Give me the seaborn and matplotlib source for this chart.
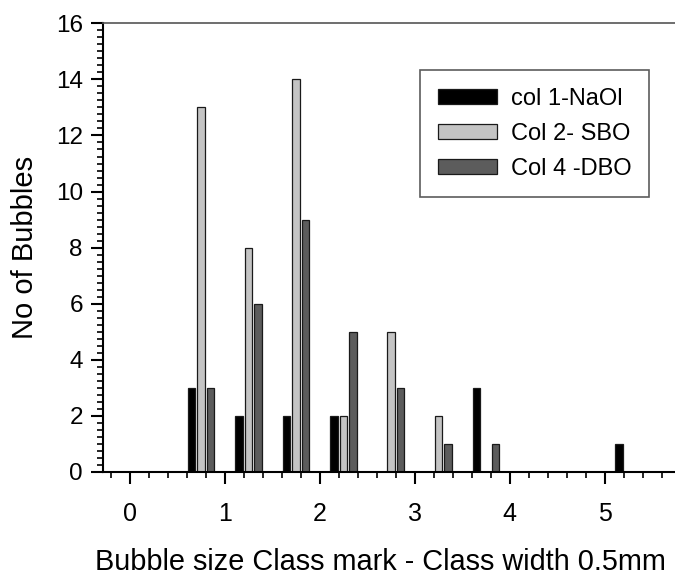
import numpy as np
import pandas as pd
import matplotlib
matplotlib.use("Agg")
import matplotlib.pyplot as plt
from matplotlib.ticker import MultipleLocator
import seaborn as sns

# ---- data ----
class_marks = [0.75, 1.25, 1.75, 2.25, 2.75, 3.25, 3.75, 4.25, 4.75, 5.25]
naol = [3, 2, 2, 2, 0, 0, 3, 0, 0, 1]
sbo = [13, 8, 14, 2, 5, 2, 0, 0, 0, 0]
dbo = [3, 6, 9, 5, 3, 1, 1, 0, 0, 0]
series_names = ["col 1-NaOl", "Col 2- SBO", "Col 4 -DBO"]
series_colors = ["#000000", "#c4c4c4", "#5c5c5c"]
x_ticks = [0, 1, 2, 3, 4, 5]
y_ticks = [0, 2, 4, 6, 8, 10, 12, 14, 16]

rows = []
for name, vals in zip(series_names, [naol, sbo, dbo]):
    for xm, v in zip(class_marks, vals):
        if v > 0:
            rows.append({"x": xm, "count": v, "series": name})
df = pd.DataFrame(rows)

sns.set_style("ticks")
plt.rcParams["font.family"] = ["Liberation Sans", "DejaVu Sans"]
plt.rcParams["text.color"] = "black"
plt.rcParams["axes.labelcolor"] = "black"
plt.rcParams["xtick.color"] = "black"
plt.rcParams["ytick.color"] = "black"

fig = plt.figure(figsize=(6.75, 5.76), dpi=100)
ax = fig.add_axes([103 / 675, 1 - 472 / 576, 572 / 675, (472 - 23.3) / 576])

sns.barplot(data=df, x="x", y="count", hue="series", hue_order=series_names,
            palette=series_colors, native_scale=True, width=0.6, gap=0.2,
            dodge=True, edgecolor="#1a1a1a", linewidth=0.9, ax=ax, errorbar=None)

ax.set_xlim(-0.28, 5.74)
ax.set_ylim(0, 16)
ax.set_xticks(x_ticks)
ax.set_xticklabels([str(t) for t in x_ticks])
ax.set_yticks(y_ticks)
ax.set_yticklabels([str(t) for t in y_ticks])
ax.xaxis.set_minor_locator(MultipleLocator(0.2))
ax.yaxis.set_minor_locator(MultipleLocator(0.25))

ax.tick_params(axis="both", which="major", direction="out", length=8.5, width=1.5,
               color="black", labelcolor="black")
ax.tick_params(axis="both", which="minor", direction="out", length=4.3, width=1.2, color="black")
ax.tick_params(axis="x", which="major", labelsize=18, pad=13)
ax.tick_params(axis="y", which="major", labelsize=17.5, pad=6)

for s in ["left", "bottom"]:
    ax.spines[s].set_linewidth(1.5)
    ax.spines[s].set_color("black")
ax.spines["top"].set_visible(True)
ax.spines["top"].set_linewidth(1.2)
ax.spines["top"].set_color("#555555")
ax.spines["right"].set_visible(False)

ax.set_xlabel("Bubble size Class mark - Class width 0.5mm", fontsize=20.8, color="black")
ax.set_ylabel("No of Bubbles", fontsize=21, color="black")
ax.xaxis.set_label_coords(0.485, -0.170)
ax.yaxis.set_label_coords(-0.112, 0.5)

leg = ax.legend(loc="upper left", bbox_to_anchor=(0.554, 0.896), borderaxespad=0,
                fontsize=17, frameon=True, fancybox=False, handlelength=2.5,
                handleheight=0.6, labelspacing=0.55, handletextpad=0.6,
                borderpad=0.75, title=None)
leg.get_frame().set_edgecolor("#333333")
leg.get_frame().set_linewidth(1.2)
for t in leg.get_texts():
    t.set_color("black")

fig.savefig("out.png", dpi=100)
